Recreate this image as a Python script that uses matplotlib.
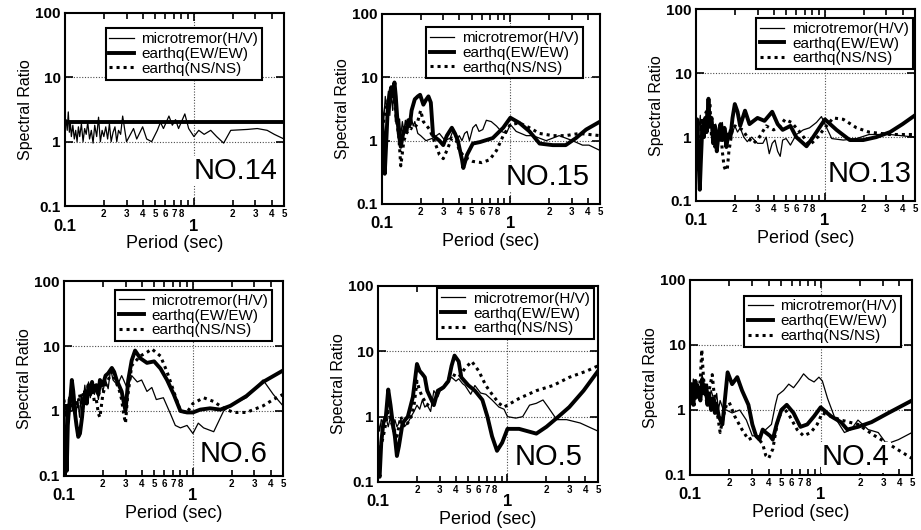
import matplotlib.pyplot as plt

plt.rcParams['font.family'] = ['Liberation Sans', 'DejaVu Sans']

# ---- NO.14 ----
no14_mt_T = [0.100, 0.102, 0.104, 0.106, 0.108, 0.110, 0.112, 0.115, 0.118, 0.121, 0.124, 0.127, 0.130,
             0.134, 0.138, 0.142, 0.146, 0.150, 0.155, 0.160, 0.165, 0.170, 0.176, 0.182, 0.188, 0.194,
             0.200, 0.207, 0.214, 0.221, 0.228, 0.236, 0.244, 0.252, 0.260, 0.270, 0.280, 0.30, 0.34,
             0.36, 0.40, 0.43, 0.47, 0.52, 0.55, 0.58, 0.64, 0.68, 0.72, 0.76, 0.85, 0.91, 1.0, 1.09,
             1.2, 1.35, 1.5, 1.7, 1.93, 2.6, 3.1, 3.7, 4.2, 5.0]
no14_mt_R = [1.6, 2.2, 1.5, 2.9, 1.4, 2.0, 1.2, 1.8, 1.1, 1.5, 1.0, 1.7, 1.2,
             1.9, 1.0, 1.6, 1.3, 2.0, 1.1, 1.5, 0.95, 1.8, 1.2, 2.4, 1.0, 1.5,
             1.2, 1.7, 1.1, 1.9, 1.0, 1.4, 1.7, 1.0, 1.5, 1.3, 2.5, 1.0, 1.6,
             1.1, 1.7, 1.1, 1.0, 1.5, 2.0, 1.6, 2.5, 1.8, 2.2, 1.6, 2.7, 1.6, 1.2, 1.5,
             1.3, 1.5, 1.2, 0.95, 1.5, 1.55, 1.6, 1.5, 1.3, 1.1]
no14_ew_T = [0.1, 5.0]
no14_ew_R = [2.0, 2.0]
no14_ns_T = []
no14_ns_R = []

# ---- NO.15 ----
no15_mt_T = [0.1, 0.103, 0.106, 0.109, 0.112, 0.115, 0.118, 0.121, 0.124, 0.127, 0.13, 0.133, 0.137,
             0.14, 0.144, 0.148, 0.152, 0.156, 0.16, 0.165, 0.17, 0.175, 0.18, 0.19, 0.2, 0.22, 0.25,
             0.28, 0.31, 0.34, 0.36, 0.38, 0.40, 0.42, 0.44, 0.46, 0.48, 0.51, 0.54, 0.57, 0.61, 0.65,
             0.71, 0.78, 0.85, 0.93, 1.0, 1.11, 1.33, 1.5, 1.9, 2.4, 3.05, 3.65, 4.1, 5.0]
no15_mt_R = [4.0, 2.0, 5.0, 3.0, 6.0, 2.5, 5.5, 3.0, 6.5, 2.0, 3.5, 1.5, 2.2,
             1.2, 2.0, 1.4, 2.1, 1.5, 2.0, 1.6, 2.2, 1.7, 2.0, 1.3, 1.2, 1.0, 1.1,
             1.3, 1.0, 1.1, 1.5, 1.0, 1.2, 1.0, 1.3, 1.4, 1.0, 1.6, 1.8, 1.4, 1.5, 2.1,
             2.0, 1.7, 1.4, 1.3, 1.8, 1.4, 1.2, 1.2, 1.0, 1.2, 1.0, 0.85, 0.85, 0.7]
no15_ew_T = [0.1, 0.103, 0.105, 0.108, 0.111, 0.115, 0.118, 0.121, 0.125, 0.128, 0.131, 0.135, 0.14,
             0.145, 0.15, 0.155, 0.16, 0.165, 0.17, 0.18, 0.19, 0.198, 0.21, 0.22, 0.23, 0.24, 0.25,
             0.28, 0.30, 0.32, 0.35, 0.37, 0.39, 0.42, 0.43, 0.46, 0.51, 0.58, 0.73, 0.88, 1.0, 1.18,
             1.41, 1.69, 2.14, 2.7, 3.25, 3.9, 5.0]
no15_ew_R = [2.3, 0.8, 0.3, 1.0, 3.4, 5.5, 7.0, 5.0, 8.3, 5.0, 2.5, 1.3, 0.8,
             1.2, 1.6, 1.4, 2.1, 1.8, 3.0, 4.5, 5.0, 5.3, 3.7, 4.4, 5.0, 4.0, 1.2,
             1.0, 0.85, 1.2, 1.6, 1.3, 1.0, 0.5, 0.37, 0.6, 0.9, 0.95, 1.1, 1.6, 2.3, 1.9,
             1.4, 0.9, 0.85, 0.85, 1.1, 1.5, 2.0]
no15_ns_T = [0.1, 0.105, 0.11, 0.115, 0.12, 0.125, 0.13, 0.135, 0.14, 0.148, 0.155, 0.165, 0.175,
             0.187, 0.2, 0.21, 0.235, 0.26, 0.28, 0.30, 0.32, 0.35, 0.38, 0.40, 0.44, 0.51, 0.6,
             0.69, 0.78, 0.88, 1.0, 1.18, 1.41, 1.69, 2.14, 2.7, 3.45, 5.0]
no15_ns_R = [1.5, 2.5, 4.0, 5.5, 6.0, 4.0, 2.0, 1.2, 0.4, 1.0, 1.3, 1.6, 1.5,
             1.8, 3.0, 2.0, 1.5, 0.9, 0.6, 0.52, 0.7, 1.1, 1.0, 0.7, 0.55, 0.47, 0.45,
             0.5, 0.7, 1.2, 1.8, 1.9, 1.6, 1.3, 1.2, 1.2, 1.3, 1.2]

# ---- NO.13 ----
no13_mt_T = [0.1, 0.102, 0.104, 0.106, 0.108, 0.11, 0.113, 0.116, 0.12, 0.123, 0.126, 0.13, 0.134,
             0.138, 0.142, 0.146, 0.15, 0.155, 0.16, 0.165, 0.17, 0.176, 0.182, 0.19, 0.2, 0.21, 0.22,
             0.235, 0.25, 0.27, 0.3, 0.33, 0.35, 0.37, 0.39, 0.41, 0.43, 0.45, 0.47, 0.5, 0.54, 0.6,
             0.68, 0.76, 0.86, 0.94, 1.0, 1.13, 1.39, 1.76, 2.2, 3.2, 5.0]
no13_mt_R = [2.0, 1.0, 0.3, 1.5, 2.2, 0.8, 1.8, 1.2, 2.5, 1.5, 3.5, 1.4, 1.8,
             1.1, 1.6, 1.0, 1.5, 1.1, 1.7, 1.0, 1.4, 1.0, 1.3, 1.1, 1.5, 1.2, 1.4,
             1.0, 0.85, 1.0, 0.8, 0.8, 1.0, 0.55, 0.8, 0.9, 0.6, 0.5, 0.9, 0.95, 0.75, 1.1,
             1.3, 1.4, 1.7, 2.1, 1.6, 0.95, 0.9, 0.95, 1.1, 1.1, 1.0]
no13_ew_T = [0.1, 0.102, 0.104, 0.107, 0.109, 0.112, 0.115, 0.118, 0.121, 0.125, 0.128, 0.132, 0.136,
             0.14, 0.145, 0.15, 0.155, 0.16, 0.166, 0.172, 0.178, 0.185, 0.192, 0.2, 0.21, 0.22, 0.24,
             0.26, 0.28, 0.3, 0.34, 0.39, 0.43, 0.47, 0.54, 0.6, 0.72, 0.81, 1.0, 1.23, 1.56, 1.98,
             2.5, 3.2, 4.0, 5.0]
no13_ew_R = [1.5, 1.9, 0.6, 0.15, 0.4, 1.5, 1.0, 2.0, 1.2, 4.0, 1.5, 2.0, 0.8,
             1.5, 0.6, 1.2, 1.6, 0.9, 1.4, 0.7, 1.1, 1.0, 2.0, 3.3, 2.5, 1.5, 2.6,
             1.6, 1.8, 2.0, 1.8, 2.5, 1.6, 1.3, 1.5, 1.0, 0.72, 1.0, 1.9, 1.3, 0.9, 0.9,
             1.0, 1.2, 1.6, 2.2]
no13_ns_T = [0.1, 0.103, 0.106, 0.109, 0.112, 0.116, 0.12, 0.124, 0.128, 0.132, 0.136, 0.14, 0.145,
             0.15, 0.155, 0.16, 0.165, 0.17, 0.175, 0.18, 0.19, 0.2, 0.23, 0.25, 0.28, 0.31, 0.35,
             0.4, 0.45, 0.49, 0.55, 0.64, 0.76, 0.86, 1.0, 1.16, 1.39, 1.76, 2.2, 3.2, 5.0]
no13_ns_R = [1.5, 0.8, 0.3, 1.2, 2.0, 1.0, 2.5, 1.3, 3.5, 1.0, 1.5, 0.7, 1.3,
             0.8, 1.5, 0.6, 0.35, 0.3, 0.32, 0.6, 1.2, 1.5, 1.3, 1.0, 0.8, 1.0, 1.5,
             1.3, 1.5, 1.9, 1.7, 1.2, 0.75, 0.95, 1.4, 2.0, 1.9, 1.4, 1.2, 1.1, 1.1]

# ---- NO.6 ----
no6_mt_T = [0.1, 0.102, 0.104, 0.106, 0.108, 0.11, 0.113, 0.116, 0.12, 0.124, 0.128, 0.132, 0.136,
            0.14, 0.145, 0.15, 0.155, 0.16, 0.166, 0.172, 0.178, 0.185, 0.192, 0.2, 0.21, 0.22, 0.23,
            0.24, 0.26, 0.28, 0.29, 0.31, 0.335, 0.37, 0.4, 0.44, 0.48, 0.52, 0.59, 0.67, 0.73, 0.8,
            0.9, 1.0, 1.1, 1.21, 1.45, 1.73, 2.07, 2.6, 3.5, 4.2, 5.0]
no6_mt_R = [0.9, 0.3, 1.2, 0.5, 1.5, 0.8, 2.5, 1.0, 2.0, 0.9, 1.5, 0.8, 1.8,
            1.2, 2.5, 1.5, 2.8, 1.6, 2.5, 1.8, 2.2, 1.5, 2.8, 2.0, 3.0, 2.2, 4.5,
            3.0, 2.5, 3.5, 3.0, 2.2, 3.5, 2.8, 3.0, 2.0, 2.3, 1.5, 1.6, 0.9, 0.6, 0.55,
            0.6, 0.45, 0.65, 0.55, 0.48, 1.0, 1.3, 1.6, 3.0, 1.8, 1.2]
no6_ew_T = [0.1, 0.101, 0.103, 0.105, 0.107, 0.109, 0.112, 0.115, 0.118, 0.121, 0.125, 0.129, 0.133,
            0.138, 0.142, 0.146, 0.15, 0.155, 0.16, 0.165, 0.17, 0.178, 0.185, 0.19, 0.2, 0.21, 0.22,
            0.235, 0.245, 0.256, 0.28, 0.30, 0.315, 0.335, 0.356, 0.39, 0.44, 0.5, 0.56, 0.63, 0.71,
            0.8, 0.9, 1.0, 1.14, 1.36, 1.63, 1.95, 2.6, 3.5, 5.0]
no6_ew_R = [0.2, 0.1, 0.5, 0.12, 0.6, 1.0, 1.5, 3.0, 2.0, 1.0, 0.6, 0.4, 0.45,
            0.8, 1.5, 2.0, 1.3, 2.5, 1.8, 2.8, 2.0, 2.5, 1.8, 3.0, 2.5, 3.5, 3.8,
            4.6, 4.0, 3.0, 2.0, 1.0, 3.0, 6.0, 8.5, 6.5, 5.5, 5.8, 4.5, 3.0, 1.8,
            1.0, 0.95, 0.95, 1.05, 1.1, 1.05, 1.2, 1.7, 2.8, 4.2]
no6_ns_T = [0.1, 0.102, 0.104, 0.107, 0.11, 0.113, 0.116, 0.12, 0.124, 0.128, 0.132, 0.137, 0.142,
            0.148, 0.155, 0.16, 0.166, 0.172, 0.178, 0.185, 0.19, 0.2, 0.21, 0.22, 0.235, 0.25, 0.27,
            0.28, 0.29, 0.30, 0.31, 0.335, 0.39, 0.44, 0.48, 0.56, 0.63, 0.71, 0.8, 0.9, 1.0, 1.21,
            1.45, 1.73, 2.07, 2.6, 3.5, 4.2, 5.0]
no6_ns_R = [1.5, 0.8, 1.3, 0.9, 1.5, 2.0, 1.2, 1.0, 1.5, 1.1, 1.8, 1.2, 2.0,
            1.6, 2.5, 1.8, 2.2, 1.4, 1.5, 0.9, 0.8, 1.8, 2.5, 3.0, 4.0, 3.0, 2.0,
            1.5, 0.9, 0.65, 1.5, 5.0, 7.0, 8.0, 9.0, 7.0, 4.0, 2.0, 1.0, 0.95, 1.3, 1.6,
            1.4, 1.1, 0.95, 0.95, 1.2, 1.5, 1.8]

# ---- NO.5 ----
no5_mt_T = [0.1, 0.103, 0.106, 0.11, 0.115, 0.12, 0.125, 0.13, 0.135, 0.14, 0.15, 0.16, 0.17,
            0.18, 0.19, 0.2, 0.21, 0.22, 0.23, 0.24, 0.255, 0.27, 0.29, 0.31, 0.33, 0.35, 0.37,
            0.4, 0.42, 0.45, 0.47, 0.52, 0.56, 0.62, 0.68, 0.76, 0.86, 0.94, 1.0, 1.16, 1.31, 1.48,
            1.67, 1.88, 2.06, 2.4, 2.86, 3.64, 5.0]
no5_mt_R = [0.9, 0.6, 0.9, 0.8, 1.0, 0.7, 1.0, 0.6, 0.9, 0.7, 0.9, 0.7, 0.8,
            1.0, 1.2, 1.5, 1.3, 1.8, 1.4, 1.5, 1.2, 2.5, 2.0, 2.8, 3.0, 3.5, 4.0,
            3.5, 3.8, 3.2, 3.0, 2.2, 3.0, 2.3, 2.2, 1.8, 1.4, 1.3, 1.0, 0.95, 1.0, 1.5,
            1.6, 1.8, 1.4, 0.9, 0.9, 0.8, 0.6]
no5_ew_T = [0.1, 0.103, 0.106, 0.11, 0.115, 0.12, 0.125, 0.13, 0.135, 0.14, 0.145, 0.155, 0.17,
            0.186, 0.2, 0.21, 0.22, 0.23, 0.24, 0.27, 0.29, 0.32, 0.35, 0.37, 0.39, 0.42, 0.44,
            0.5, 0.56, 0.64, 0.7, 0.76, 0.83, 0.91, 1.0, 1.23, 1.67, 2.0, 2.4, 3.0, 3.87, 5.0]
no5_ew_R = [0.15, 0.12, 0.4, 0.8, 1.0, 2.6, 1.5, 0.8, 0.5, 0.25, 0.35, 0.8, 1.0,
            2.0, 6.4, 5.0, 4.5, 4.0, 2.5, 1.5, 2.5, 2.8, 3.5, 6.0, 8.6, 7.0, 4.0,
            3.0, 2.5, 1.8, 1.0, 0.5, 0.3, 0.4, 0.65, 0.65, 0.55, 0.7, 0.95, 1.4, 2.5, 5.0]
no5_ns_T = [0.1, 0.105, 0.11, 0.115, 0.12, 0.13, 0.14, 0.15, 0.16, 0.17, 0.18, 0.19, 0.2,
            0.21, 0.22, 0.24, 0.27, 0.3, 0.33, 0.37, 0.42, 0.47, 0.53, 0.6, 0.68, 0.76, 0.86,
            0.94, 1.0, 1.23, 1.67, 2.25, 3.0, 4.1, 5.0]
no5_ns_R = [0.2, 0.35, 0.5, 0.8, 1.2, 0.7, 0.5, 1.0, 0.7, 0.8, 1.0, 1.5, 3.5,
            2.5, 2.0, 1.5, 2.0, 2.5, 3.0, 4.5, 4.0, 5.5, 7.0, 5.0, 3.0, 2.2, 1.6,
            1.4, 1.5, 1.9, 2.5, 3.0, 4.0, 5.0, 6.0]

# ---- NO.4 ----
no4_mt_T = [0.1, 0.103, 0.106, 0.11, 0.113, 0.116, 0.12, 0.124, 0.128, 0.132, 0.136, 0.14, 0.145,
            0.15, 0.155, 0.16, 0.165, 0.17, 0.18, 0.19, 0.21, 0.24, 0.27, 0.3, 0.34, 0.38, 0.42,
            0.45, 0.47, 0.52, 0.57, 0.62, 0.68, 0.74, 0.81, 0.89, 0.97, 1.03, 1.13, 1.27, 1.52, 1.71,
            1.93, 2.31, 2.76, 3.2, 3.94, 5.0]
no4_mt_R = [2.5, 1.5, 3.0, 2.0, 1.5, 2.5, 1.8, 3.5, 2.0, 1.5, 2.5, 1.3, 2.0,
            1.6, 1.2, 1.8, 1.0, 1.4, 1.0, 1.0, 0.9, 1.0, 0.7, 0.4, 0.4, 0.5, 0.6,
            1.2, 1.7, 2.0, 2.5, 2.2, 2.8, 3.6, 3.0, 2.7, 3.2, 2.8, 1.5, 0.8, 0.45, 0.5,
            0.7, 0.5, 0.45, 0.3, 0.35, 0.45]
no4_ew_T = [0.1, 0.103, 0.106, 0.11, 0.113, 0.116, 0.12, 0.124, 0.128, 0.132, 0.136, 0.14, 0.145,
            0.15, 0.155, 0.16, 0.166, 0.177, 0.194, 0.21, 0.23, 0.25, 0.28, 0.3, 0.32, 0.34, 0.36,
            0.38, 0.41, 0.43, 0.46, 0.5, 0.55, 0.62, 0.7, 0.79, 0.89, 1.0, 1.2, 1.43, 1.6, 1.93,
            2.45, 3.3, 5.0]
no4_ew_R = [1.5, 2.5, 1.2, 2.8, 1.6, 2.2, 1.4, 3.0, 1.8, 2.4, 1.2, 1.8, 1.0,
            1.5, 0.9, 1.2, 0.8, 0.6, 3.8, 2.5, 3.2, 2.0, 1.2, 0.6, 0.4, 0.35, 0.5,
            0.45, 0.4, 0.35, 0.6, 1.0, 1.2, 0.9, 0.55, 0.6, 0.8, 1.1, 0.8, 0.65, 0.5, 0.55,
            0.65, 0.9, 1.4]
no4_ns_T = [0.1, 0.104, 0.108, 0.112, 0.116, 0.12, 0.123, 0.127, 0.13, 0.135, 0.14, 0.148, 0.152,
            0.157, 0.163, 0.17, 0.18, 0.19, 0.2, 0.22, 0.25, 0.28, 0.32, 0.36, 0.38, 0.4, 0.43,
            0.47, 0.52, 0.58, 0.66, 0.74, 0.84, 0.94, 1.03, 1.43, 1.93, 2.6, 3.5, 5.0]
no4_ns_R = [1.5, 2.0, 1.2, 2.5, 1.8, 3.0, 8.5, 3.0, 2.0, 1.2, 2.0, 3.5, 2.0,
            1.5, 0.8, 0.45, 0.8, 1.2, 1.3, 0.8, 0.5, 0.35, 0.4, 0.3, 0.2, 0.18, 0.25,
            0.7, 1.1, 0.8, 0.5, 0.4, 0.45, 0.6, 0.9, 0.7, 0.6, 0.4, 0.28, 0.18]

# panel layout: (axes rect in figure fraction, name, data, legend anchor, name text position)
panels = [
    ([0.0706, 0.6113, 0.2378, 0.3642], 'NO.14',
     (no14_mt_T, no14_mt_R), (no14_ew_T, no14_ew_R), (no14_ns_T, no14_ns_R), (0.90, 0.92), (0.97, 0.14)),
    ([0.4148, 0.6151, 0.2367, 0.3585], 'NO.15',
     (no15_mt_T, no15_mt_R), (no15_ew_T, no15_ew_R), (no15_ns_T, no15_ns_R), (0.92, 0.93), (0.95, 0.10)),
    ([0.7557, 0.6208, 0.2378, 0.3613], 'NO.13',
     (no13_mt_T, no13_mt_R), (no13_ew_T, no13_ew_R), (no13_ns_T, no13_ns_R), (0.99, 0.955), (0.985, 0.10)),
    ([0.0695, 0.1019, 0.2378, 0.3679], 'NO.6',
     (no6_mt_T, no6_mt_R), (no6_ew_T, no6_ew_R), (no6_ns_T, no6_ns_R), (0.95, 0.954), (0.93, 0.07)),
    ([0.4104, 0.0906, 0.2389, 0.3698], 'NO.5',
     (no5_mt_T, no5_mt_R), (no5_ew_T, no5_ew_R), (no5_ns_T, no5_ns_R), (0.98, 0.99), (0.93, 0.087)),
    ([0.7492, 0.1038, 0.2410, 0.3679], 'NO.4',
     (no4_mt_T, no4_mt_R), (no4_ew_T, no4_ew_R), (no4_ns_T, no4_ns_R), (0.95, 0.92), (0.90, 0.05)),
]

x_major = [0.1, 1]
x_major_labels = ['0.1', '1']
x_minor = [0.2, 0.3, 0.4, 0.5, 0.6, 0.7, 0.8, 0.9, 2, 3, 4, 5]
x_minor_labels = ['2', '3', '4', '5', '6', '7', '8', '', '2', '3', '4', '5']
y_major = [0.1, 1, 10, 100]
y_major_labels = ['0.1', '1', '10', '100']

fig = plt.figure(figsize=(9.21, 5.30), dpi=100)

for rect, name, mt, ew, ns, leg_anchor, name_pos in panels:
    ax = fig.add_axes(rect)
    ax.set_xscale('log')
    ax.set_yscale('log')

    # dotted reference lines
    for yv in (1, 10):
        ax.axhline(yv, color='0.3', lw=0.8, ls=(0, (1, 1.5)), zorder=1)
    ax.axvline(1, color='0.3', lw=0.8, ls=(0, (1, 1.5)), zorder=1)

    ax.plot(mt[0], mt[1], color='black', lw=0.9, label='microtremor(H/V)', zorder=3)
    ax.plot(ew[0], ew[1], color='black', lw=2.8, label='earthq(EW/EW)', zorder=3)
    ax.plot(ns[0], ns[1], color='black', lw=2.2, ls=(0, (1, 1.3)), label='earthq(NS/NS)', zorder=3)

    ax.set_xlim(0.1, 5)
    ax.set_ylim(0.1, 100)

    ax.set_xticks(x_major)
    ax.set_xticklabels(x_major_labels, fontsize=12, fontweight='bold')
    ax.set_xticks(x_minor, minor=True)
    ax.set_xticklabels(x_minor_labels, minor=True, fontsize=7, fontweight='bold')
    ax.set_yticks(y_major)
    ax.set_yticklabels(y_major_labels, fontsize=11, fontweight='bold')
    ax.set_yticks([], minor=True)
    ax.tick_params(which='both', direction='in', top=True, right=True, width=1.2)
    ax.tick_params(which='major', length=6)
    ax.tick_params(which='minor', length=4)
    ax.tick_params(axis='x', which='major', pad=9)
    ax.tick_params(axis='x', which='minor', pad=2)
    ax.tick_params(axis='y', which='major', pad=3)
    for sp in ax.spines.values():
        sp.set_linewidth(1.5)

    ax.set_xlabel('Period (sec)', fontsize=13, labelpad=1)
    ax.set_ylabel('Spectral Ratio', fontsize=11.5, labelpad=2)

    leg = ax.legend(loc='upper right', bbox_to_anchor=leg_anchor, fontsize=11, frameon=True,
                    fancybox=False, edgecolor='black', framealpha=1, borderaxespad=0,
                    handlelength=1.6, labelspacing=0.05, borderpad=0.25, handletextpad=0.5)
    leg.get_frame().set_linewidth(1.5)
    leg.set_zorder(5)

    ax.text(name_pos[0], name_pos[1], name, transform=ax.transAxes, ha='right', va='baseline',
            fontsize=21, zorder=4,
            bbox=dict(facecolor='white', edgecolor='none', pad=1))

fig.savefig('out.png', dpi=100)
